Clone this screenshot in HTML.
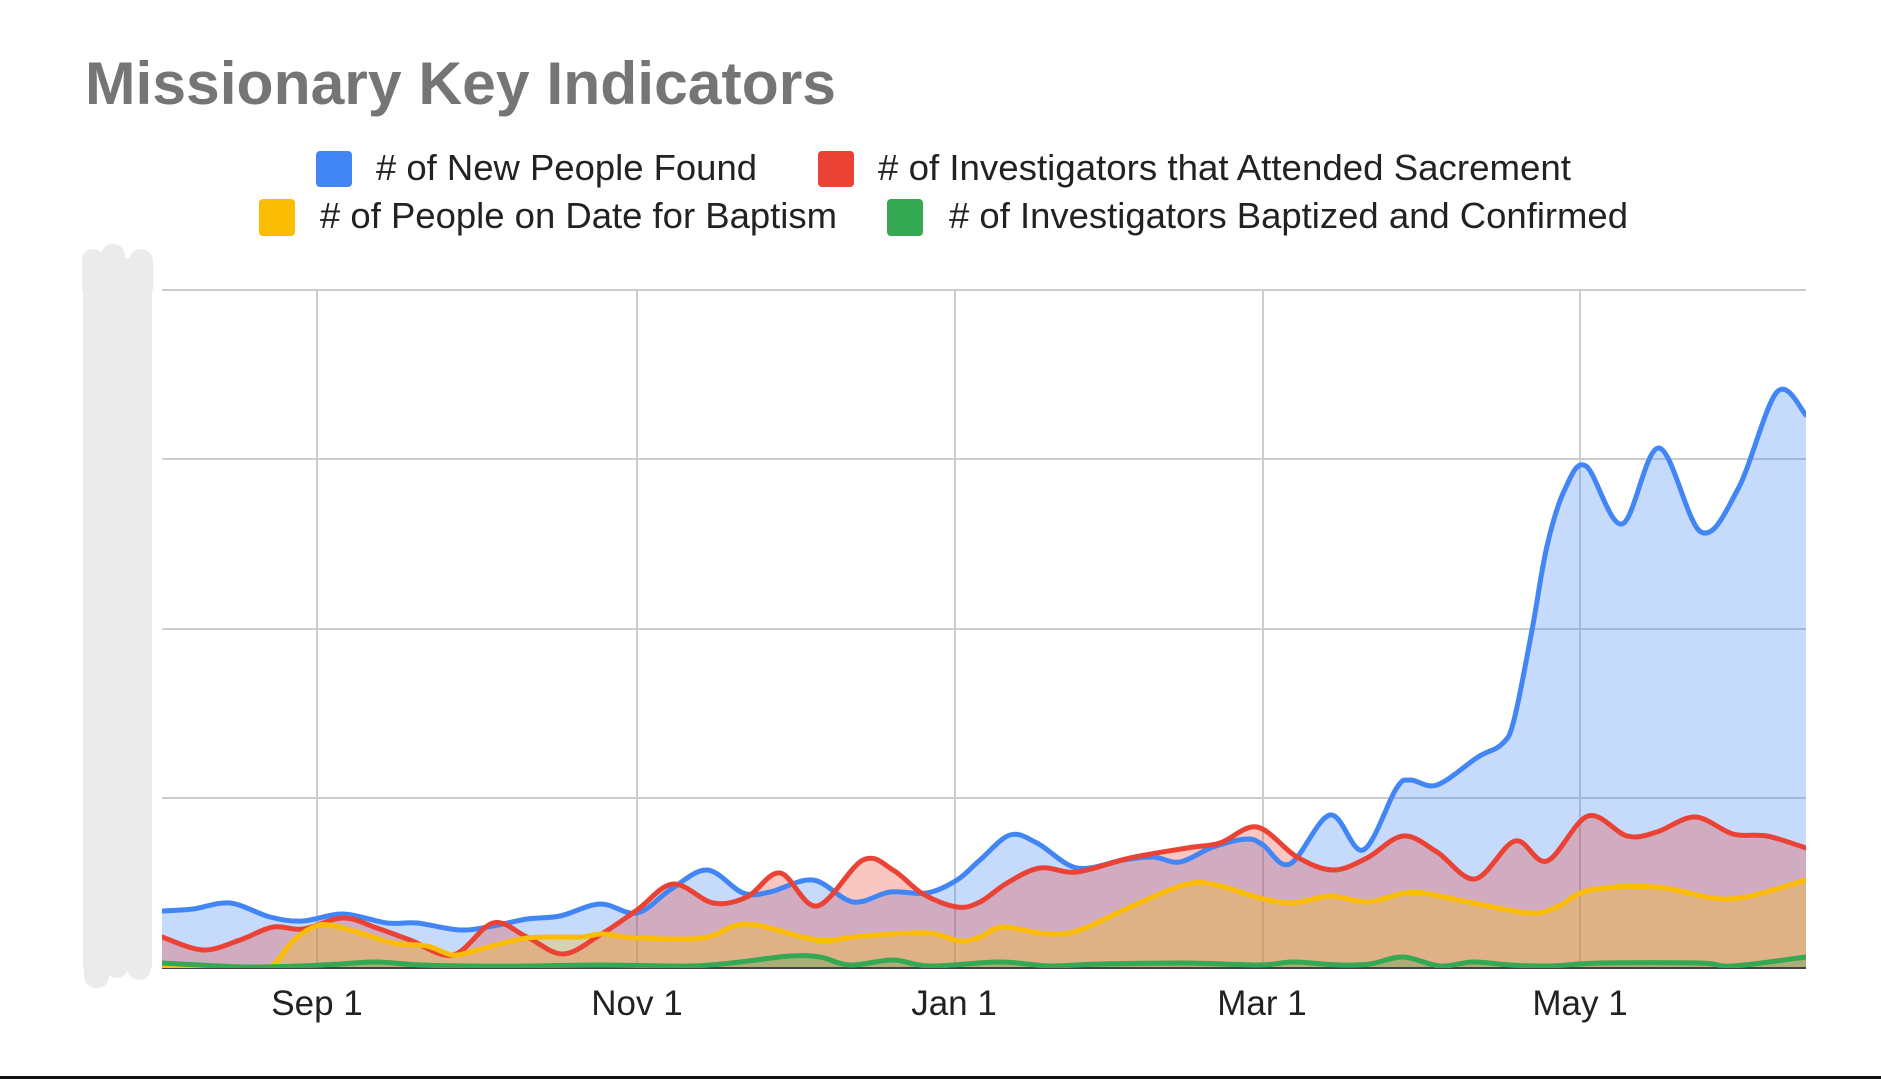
<!DOCTYPE html>
<html><head><meta charset="utf-8">
<style>
html,body{margin:0;padding:0;background:#fff;overflow:hidden;}
svg{display:block;}
text{font-family:"Liberation Sans",Arial,sans-serif;}
</style></head>
<body>
<svg id="s" width="1881" height="1079" viewBox="0 0 1881 1079" xmlns="http://www.w3.org/2000/svg">
<defs><clipPath id="clip"><rect x="162" y="280" width="1644" height="688"/></clipPath></defs>
<rect width="1881" height="1079" fill="#fff"/>
<text x="85" y="104" font-weight="bold" font-size="60" fill="#757575" textLength="751" lengthAdjust="spacingAndGlyphs">Missionary Key Indicators</text>

<rect x="316" y="151" width="36" height="36" rx="4" fill="#4285f4"/>
<text x="376" y="180" font-size="36" fill="#222" textLength="381" lengthAdjust="spacingAndGlyphs"># of New People Found</text>
<rect x="818" y="151" width="36" height="36" rx="4" fill="#ea4335"/>
<text x="878" y="180" font-size="36" fill="#222" textLength="693" lengthAdjust="spacingAndGlyphs"># of Investigators that Attended Sacrement</text>
<rect x="259" y="199" width="36" height="37" rx="4" fill="#fbbc04"/>
<text x="320" y="228" font-size="36" fill="#222" textLength="517" lengthAdjust="spacingAndGlyphs"># of People on Date for Baptism</text>
<rect x="887" y="199" width="36" height="37" rx="4" fill="#34a853"/>
<text x="949" y="228" font-size="36" fill="#222" textLength="679" lengthAdjust="spacingAndGlyphs"># of Investigators Baptized and Confirmed</text>

<g fill="#ebebeb">
<rect x="83" y="258" width="69" height="710"/>
<rect x="82" y="249" width="22" height="50" rx="11"/>
<rect x="101" y="244" width="24" height="50" rx="12"/>
<rect x="129" y="249" width="24" height="50" rx="12"/>
<rect x="84" y="938" width="25" height="50" rx="12"/>
<rect x="106" y="928" width="22" height="50" rx="11"/>
<rect x="127" y="930" width="24" height="50" rx="12"/>
</g>

<g stroke="#cccccc" stroke-width="2">
<line x1="162" y1="290" x2="1806" y2="290"/>
<line x1="162" y1="459" x2="1806" y2="459"/>
<line x1="162" y1="629" x2="1806" y2="629"/>
<line x1="162" y1="798" x2="1806" y2="798"/>
<line x1="317" y1="290" x2="317" y2="968"/>
<line x1="637" y1="290" x2="637" y2="968"/>
<line x1="955" y1="290" x2="955" y2="968"/>
<line x1="1263" y1="290" x2="1263" y2="968"/>
<line x1="1580" y1="290" x2="1580" y2="968"/>
</g>

<g id="areas" clip-path="url(#clip)"></g>
<line x1="162" y1="968" x2="1806" y2="968" stroke="#444" stroke-width="2"/>
<g id="lines" clip-path="url(#clip)"></g>

<g font-size="35" fill="#222" text-anchor="middle">
<text x="317" y="1015">Sep 1</text>
<text x="637" y="1015">Nov 1</text>
<text x="954" y="1015">Jan 1</text>
<text x="1262" y="1015">Mar 1</text>
<text x="1580" y="1015">May 1</text>
</g>
<rect x="0" y="1076" width="1881" height="3" fill="#111"/>
</svg>
<script>
var S=[
{c:"#4285f4",p:[[162,911],[193,909],[230,903],[270,917],[303,921],[343,914],[387,923],[417,923],[460,930],[493,926],[527,919],[560,916],[600,904],[637,913],[670,890],[707,870],[743,893],[770,892],[813,880],[853,902],[890,892],[927,893],[957,880],[980,860],[1010,835],[1037,843],[1077,868],[1123,860],[1153,857],[1180,862],[1213,847],[1247,839],[1263,845],[1290,864],[1330,815],[1363,850],[1396,789],[1410,780],[1437,785],[1478,757],[1502,744],[1514,720],[1532,630],[1547,546],[1565,489],[1586,466],[1622,524],[1659,448],[1701,532],[1738,489],[1777,392],[1806,415]]},
{c:"#ea4335",p:[[162,937],[203,950],[240,940],[273,927],[303,929],[343,918],[377,928],[410,940],[453,955],[493,923],[527,937],[563,954],[600,935],[637,910],[673,884],[713,903],[747,897],[780,873],[817,906],[863,860],[893,870],[923,894],[957,907],[980,902],[1007,883],[1040,868],[1077,872],[1130,858],[1187,848],[1220,843],[1257,827],[1297,857],[1333,870],[1367,858],[1403,836],[1437,852],[1475,879],[1515,841],[1547,861],[1588,816],[1627,836],[1657,832],[1695,817],[1733,834],[1767,836],[1806,848]]},
{c:"#fbbc04",p:[[162,968],[200,968],[250,968],[272,966],[292,942],[313,927],[330,925],[360,933],[393,943],[427,946],[453,955],[477,950],[527,938],[580,937],[603,934],[637,938],[703,938],[747,924],[817,940],[863,936],[927,933],[960,941],[980,937],[1003,927],[1047,934],[1080,930],[1130,907],[1187,884],[1220,886],[1260,898],[1293,903],[1330,896],[1367,902],[1400,894],[1423,893],[1473,903],[1530,913],[1557,907],[1590,890],[1657,887],[1730,899],[1806,880]]},
{c:"#34a853",p:[[162,963],[200,965],[250,967],[300,966],[340,964],[377,962],[420,965],[470,966],[530,966],[600,965],[690,966],[740,962],[790,956],[820,957],[850,965],[893,960],[930,966],[1000,962],[1050,966],[1100,964],[1187,963],[1260,965],[1293,962],[1340,965],[1370,964],[1403,957],[1440,966],[1473,962],[1510,965],[1550,966],[1600,963],[1700,963],[1733,966],[1806,957]]}
];
function cr(p){
  var d="M"+p[0][0]+","+p[0][1];
  for(var i=0;i<p.length-1;i++){
    var p0=p[i-1]||p[i],p1=p[i],p2=p[i+1],p3=p[i+2]||p2;
    var c1x=p1[0]+(p2[0]-p0[0])/6,c1y=p1[1]+(p2[1]-p0[1])/6;
    var c2x=p2[0]-(p3[0]-p1[0])/6,c2y=p2[1]-(p3[1]-p1[1])/6;
    d+=" C"+c1x.toFixed(1)+","+c1y.toFixed(1)+" "+c2x.toFixed(1)+","+c2y.toFixed(1)+" "+p2[0]+","+p2[1];
  }
  return d;
}
var NS="http://www.w3.org/2000/svg";
var A=document.getElementById("areas"),L=document.getElementById("lines");
S.forEach(function(s){
  var d=cr(s.p);
  var a=document.createElementNS(NS,"path");
  a.setAttribute("d",d+" L"+s.p[s.p.length-1][0]+",968 L"+s.p[0][0]+",968 Z");
  a.setAttribute("fill",s.c);a.setAttribute("fill-opacity","0.3");
  A.appendChild(a);
  var l=document.createElementNS(NS,"path");
  l.setAttribute("d",d);l.setAttribute("fill","none");l.setAttribute("stroke",s.c);
  l.setAttribute("stroke-width","5");l.setAttribute("stroke-linejoin","round");l.setAttribute("stroke-linecap","round");
  L.appendChild(l);
});
</script>
</body></html>
